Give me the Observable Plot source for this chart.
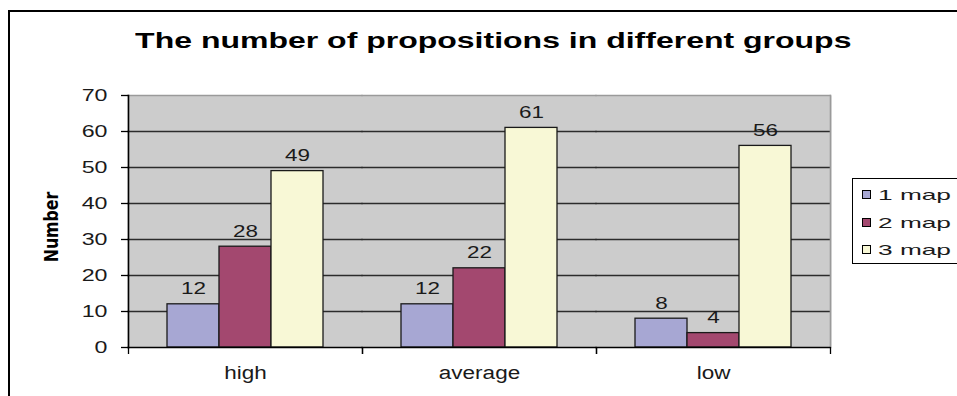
<!DOCTYPE html>
<html><head><meta charset="utf-8">
<script src="https://cdn.jsdelivr.net/npm/d3@7"></script>
<script src="https://cdn.jsdelivr.net/npm/@observablehq/plot@0.6"></script>
<style>
html,body{margin:0;padding:0;background:#fff;}
#wrap{position:relative;width:957px;height:396px;overflow:hidden;font-family:"Liberation Sans",Arial,sans-serif;color:#000;}
#border{position:absolute;left:8px;top:10px;right:-20px;bottom:-20px;border-left:2px solid #000;border-top:2px solid #000;}
#chart{position:absolute;left:0;top:0;}
.lbl{position:absolute;white-space:nowrap;line-height:1;}
#legend{position:absolute;left:852px;top:178px;width:200px;height:86px;border:1px solid #000;background:#fff;box-sizing:border-box;}
.sw{position:absolute;width:9px;height:9px;border:1px solid #000;box-sizing:border-box;}
</style>
</head><body>
<div id="wrap">
  <div id="border"></div>
  <div id="chart"></div>
</div>
<script>
const titleText = "The number of propositions in different groups";
const yLabelText = "Number";
const groups = ["high", "average", "low"];
const series = ["1 map", "2 map", "3 map"];
const map1 = [12, 12, 8];
const map2 = [28, 22, 4];
const map3 = [49, 61, 56];
const yTicks = [0, 10, 20, 30, 40, 50, 60, 70];
const colors = ["#a7a7d3", "#a3486f", "#f8f8d6"];

const seriesValues = [map1, map2, map3];
const table = [];
groups.forEach((g, gi) => series.forEach((s, si) => table.push({group: g, series: s, value: seriesValues[si][gi]})));

const W = 957, H = 396, mL = 128, mR = 127, mT = 95, mB = 49;
const facetW = (W - mL - mR) / groups.length;

const plot = Plot.plot({
  width: W, height: H,
  marginLeft: mL, marginRight: mR, marginTop: mT, marginBottom: mB,
  style: {fontFamily: '"Liberation Sans", Arial, sans-serif', fontSize: "15px", background: "transparent", color: "#000", overflow: "visible"},
  fx: {domain: groups, paddingInner: 0, paddingOuter: 0, axis: null, label: null},
  x: {domain: series, paddingInner: 0, paddingOuter: 0.75, axis: null, label: null},
  y: {domain: [0, 70], axis: null, label: null},
  color: {domain: series, range: colors},
  marks: [
    Plot.frame({fill: "#cccccc", stroke: "none", insetLeft: -1, insetRight: -1}),
    Plot.ruleY(yTicks.filter(d => d > 0 && d < 70), {stroke: "#2b2b2b", strokeWidth: 1.3, insetLeft: -0.6, insetRight: -0.6}),
    Plot.ruleY([70], {stroke: "#9a9a9a", strokeWidth: 1.6, insetLeft: -0.6, insetRight: -0.6}),
    Plot.frame({anchor: "right", facetAnchor: "right", stroke: "#9a9a9a", strokeWidth: 1.6}),
    Plot.barY(table, {fx: "group", x: "series", y: "value", fill: "series", stroke: "#1a1a1a", strokeWidth: 1.3}),
    Plot.text(table, {fx: "group", x: "series", y: "value", text: d => String(d.value), lineAnchor: "bottom", dy: -10, fontSize: 16.5, fill: "#1a1a1a"}),
    Plot.ruleY([0], {stroke: "#000", strokeWidth: 1.6, insetLeft: -0.6, insetRight: -0.6}),
    Plot.frame({anchor: "left", facetAnchor: "left", stroke: "#000", strokeWidth: 1.6}),
    Plot.axisY({ticks: yTicks, tickSize: 7, tickPadding: 14, fontSize: 16, label: null, stroke: "#000", fill: "#1a1a1a", strokeWidth: 1.3}),
    Plot.axisFx({anchor: "bottom", tickSize: 0, tickPadding: 19, fontSize: 18, label: null, fill: "#1a1a1a"}),
    Plot.axisFx({anchor: "bottom", tickSize: 7, fill: "none", label: null, stroke: "#000", strokeWidth: 1.3, dx: -facetW / 2}),
    Plot.axisFx([groups[groups.length - 1]], {anchor: "bottom", tickSize: 7, fill: "none", label: null, stroke: "#000", strokeWidth: 1.3, dx: facetW / 2})
  ]
});

const wrap = document.getElementById("wrap");
document.getElementById("chart").appendChild(plot);

function stretch(nodes, factor) {
  nodes.forEach(t => {
    const L = t.getComputedTextLength();
    if (L > 0) {
      t.setAttribute("textLength", (L * factor).toFixed(2));
      t.setAttribute("lengthAdjust", "spacingAndGlyphs");
    }
  });
}
stretch(plot.querySelectorAll('g[aria-label="y-axis tick label"] text'), 1.45);
stretch(plot.querySelectorAll('g[aria-label="fx-axis tick label"] text'), 1.25);
stretch(plot.querySelectorAll('g[aria-label="text"] text'), 1.36);

// Title
const title = document.createElement("div");
title.className = "lbl";
title.textContent = titleText;
title.style.font = 'bold 22px "Liberation Sans", Arial, sans-serif';
wrap.appendChild(title);
{
  const w = title.offsetWidth;
  title.style.left = (493.5 - w / 2) + "px";
  title.style.top = "28px";
  title.style.transformOrigin = "center center";
  title.style.transform = `scaleX(${717 / w})`;
}

// Y label
const ylab = document.createElement("div");
ylab.className = "lbl";
ylab.textContent = yLabelText;
ylab.style.font = 'bold 20px "Liberation Sans Narrow", "DejaVu Sans Condensed", Arial, sans-serif';
wrap.appendChild(ylab);
{
  const w = ylab.offsetWidth, h = ylab.offsetHeight;
  ylab.style.left = (51 - w / 2) + "px";
  ylab.style.top = (227 - h / 2) + "px";
  ylab.style.transformOrigin = "center center";
  ylab.style.transform = `rotate(-90deg) scaleX(${71 / w})`;
}

// Legend
const legend = document.createElement("div");
legend.id = "legend";
wrap.appendChild(legend);
const itemY = [15, 43, 70];
series.forEach((s, i) => {
  const sw = document.createElement("div");
  sw.className = "sw";
  sw.style.left = "9px";
  sw.style.top = (itemY[i] - 4.5) + "px";
  sw.style.background = colors[i];
  legend.appendChild(sw);
  const t = document.createElement("div");
  t.className = "lbl";
  t.textContent = s;
  t.style.font = '15px "Liberation Sans", Arial, sans-serif';
  t.style.color = "#1a1a1a";
  legend.appendChild(t);
  const h = t.offsetHeight;
  t.style.left = "25px";
  t.style.top = (itemY[i] - h / 2) + "px";
  t.style.transformOrigin = "left center";
  t.style.transform = "scaleX(1.75)";
});
</script>
</body></html>
